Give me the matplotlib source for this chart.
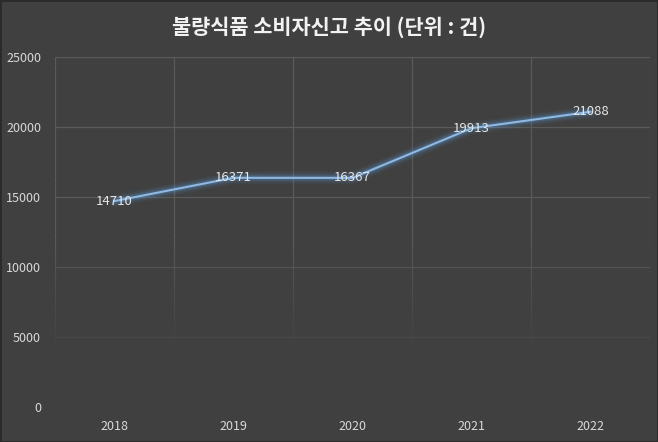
import matplotlib
matplotlib.use("Agg")
import matplotlib.pyplot as plt
from matplotlib.collections import LineCollection
import numpy as np

plt.rcParams['font.family'] = ['Noto Sans CJK KR', 'DejaVu Sans']

years = ["2018", "2019", "2020", "2021", "2022"]
reports = [14710, 16371, 16367, 19913, 21088]
yticks = [0, 5000, 10000, 15000, 20000, 25000]
title = "불량식품 소비자신고 추이 (단위 : 건)"

bg = "#404040"
grid = "#5a5a5a"
txt = "#d9d9d9"
line_c = "#8fb8e3"
glow_c = "#5b9bd5"

fig = plt.figure(figsize=(6.58, 4.42), dpi=100, facecolor=bg)
fig.patches.append(plt.Rectangle((0, 0), 1, 1, transform=fig.transFigure,
                                 fill=False, edgecolor="#2a2a2a", linewidth=2))
ax = fig.add_axes([55/658, 1 - 407/442, (650 - 55)/658, (407 - 57)/442])
ax.set_facecolor(bg)

x = np.arange(len(years))
# glow
for w, a in [(9, 0.06), (7, 0.08), (5, 0.12), (3.5, 0.18)]:
    ax.plot(x, reports, color=glow_c, linewidth=w, alpha=a, solid_capstyle='round', zorder=3)
ax.plot(x, reports, color=line_c, linewidth=1.5, zorder=4)

for xi, v in zip(x, reports):
    ax.text(xi, v, str(v), ha='center', va='center', color="#e6e6e6", fontsize=9.5, zorder=5)

ax.set_xlim(-0.5, len(years) - 0.5)
ax.set_ylim(0, 25000)
ax.set_yticks(yticks)
ax.set_yticklabels([str(t) for t in yticks])
ax.set_xticks(x)
ax.set_xticklabels(years)
ax.tick_params(axis='both', colors=txt, labelsize=9, length=0)
ax.tick_params(axis='y', pad=10)
ax.tick_params(axis='x', pad=9)

# gridlines fading toward the bottom of the plot
def fade_alpha(y):
    return float(np.clip((y - 4000) / 8000, 0, 1))

for t in yticks[1:]:
    ax.axhline(t, color=grid, linewidth=0.9, alpha=max(fade_alpha(t), 0.35), zorder=1)

segs, cols = [], []
ys = np.linspace(3000, 25000, 45)
rgb = matplotlib.colors.to_rgb(grid)
for b in np.arange(-0.5, len(years), 1.0):
    for y0, y1 in zip(ys[:-1], ys[1:]):
        segs.append([(b, y0), (b, y1)])
        cols.append((*rgb, fade_alpha((y0 + y1) / 2)))
ax.add_collection(LineCollection(segs, colors=cols, linewidths=0.9, zorder=1))

for s in ax.spines.values():
    s.set_visible(False)

fig.text(0.5, 1 - 27/442, title, ha='center', va='center', color="#f2f2f2",
         fontsize=15, fontweight='bold')

fig.savefig("out.png", dpi=100, facecolor=bg)
